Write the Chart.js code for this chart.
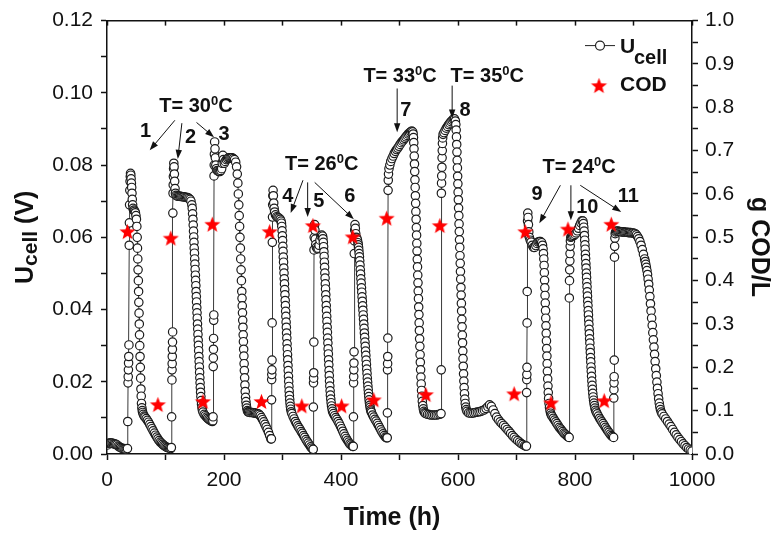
<!DOCTYPE html>
<html>
<head>
<meta charset="utf-8">
<title>Ucell and COD vs time</title>
<script src="https://cdn.jsdelivr.net/npm/chart.js@4.4.1/dist/chart.umd.min.js"></script>
<style>
  html, body { margin: 0; padding: 0; background: #fff; }
  #chart { display: block; }
</style>
</head>
<body>
<canvas id="chart" width="775" height="534"></canvas>
<script>
// cell voltage, one array per feeding run: [time h, Ucell V]
const run0 = [[1,0.0025],[3,0.003],[5,0.003],[7,0.003],[9,0.003],[11,0.0028],[13,0.0028],[15,0.0027],[17,0.0025],[19,0.0022],[21,0.002],[23,0.0018],[25,0.0016],[27,0.0015],[29,0.0015],[31,0.0014],[33,0.0014]];
const run1 = [[35,0.0015],[35.5,0.009],[36,0.0197],[36.3,0.0214],[36.6,0.0233],[36.9,0.0252],[37.2,0.027],[37.5,0.0302],[38,0.0578],[38.3,0.064],[38.6,0.069],[39,0.073],[39.4,0.0755],[39.8,0.0768],[40.2,0.0777],[40.7,0.0772],[41.2,0.0762],[41.7,0.075],[42.2,0.0738],[42.7,0.0722],[43.2,0.0705],[43.8,0.069],[44.5,0.068],[45.5,0.0675],[46.5,0.0675],[47.5,0.0672],[48.5,0.0668],[49.5,0.066],[50.3,0.065],[51,0.063],[51.6,0.06],[52.1,0.057],[52.6,0.054],[53.1,0.051],[53.6,0.048],[54,0.045],[54.4,0.042],[54.8,0.039],[55.2,0.036],[55.6,0.033],[56,0.030],[56.5,0.027],[57,0.024],[57.5,0.021],[58,0.018],[58.5,0.016],[59,0.014],[59.6,0.0128],[60.3,0.012],[61,0.0115],[62,0.011],[63.5,0.0105],[65,0.0102],[67,0.0098],[69,0.0093],[71,0.0088],[73,0.0082],[75,0.0076],[77,0.007],[79,0.0064],[81,0.0058],[83,0.0052],[85,0.0047],[87,0.0042],[89,0.0037],[91,0.0033],[93,0.003],[95,0.0027],[97,0.0024],[99,0.0022],[101,0.002],[103,0.0018],[105,0.0017],[107,0.0016],[109,0.0015]];
const run2 = [[110,0.0018],[110.5,0.0103],[111,0.0205],[111.2,0.0233],[111.4,0.025],[111.6,0.027],[111.8,0.029],[112,0.031],[112.2,0.0338],[112.6,0.0667],[112.9,0.0722],[113.2,0.0745],[113.5,0.0768],[113.8,0.079],[114.2,0.0805],[114.7,0.0795],[115.2,0.0775],[115.7,0.0755],[116.3,0.0735],[117,0.0722],[118,0.0716],[120,0.0714],[122,0.0714],[124,0.0714],[126,0.0713],[128,0.0713],[130,0.0712],[132,0.0712],[134,0.0711],[136,0.071],[138,0.071],[140,0.0708],[142,0.0705],[143.5,0.07],[145,0.069],[145.7,0.068],[146.3,0.0665],[146.9,0.065],[147.4,0.0634],[147.9,0.0617],[148.3,0.0601],[148.7,0.0586],[149.1,0.057],[149.5,0.0556],[149.9,0.054],[150.3,0.0526],[150.7,0.0511],[151.1,0.0495],[151.5,0.0481],[151.9,0.0466],[152.3,0.045],[152.7,0.0436],[153.1,0.0421],[153.5,0.0405],[153.9,0.0391],[154.3,0.0376],[154.7,0.036],[155.1,0.0346],[155.5,0.0331],[155.9,0.0315],[156.3,0.0301],[156.7,0.0286],[157.1,0.027],[157.5,0.0256],[157.9,0.0241],[158.3,0.0226],[158.7,0.0211],[159.1,0.0197],[159.5,0.0184],[160,0.0171],[160.5,0.0159],[161,0.0148],[161.6,0.0138],[162.3,0.0129],[163,0.0122],[164,0.0116],[166,0.011],[168,0.0106],[170,0.0102],[172,0.0099],[174,0.0096],[176,0.0094],[178,0.0092],[180,0.009]];
const run3 = [[181,0.0092],[181.3,0.0103],[181.6,0.0242],[181.8,0.0266],[182,0.029],[182.2,0.032],[182.4,0.037],[182.6,0.0385],[183,0.077],[183.3,0.080],[183.6,0.083],[184,0.0864],[184.6,0.0845],[185.2,0.082],[186,0.080],[187,0.079],[188.5,0.0785],[190,0.0783],[191.5,0.0782],[193,0.0782],[194.5,0.0785],[196,0.079],[197,0.0805],[198,0.0827],[199,0.0815],[200.5,0.0805],[202,0.081],[204,0.0815],[206,0.0818],[208,0.082],[210,0.082],[212,0.082],[214,0.082],[216,0.0818],[218,0.0815],[220,0.0808],[221.5,0.0795],[222.7,0.0775],[223.7,0.075],[224.5,0.072],[225.3,0.069],[226,0.066],[226.7,0.063],[227.3,0.060],[228,0.057],[228.6,0.054],[229.2,0.051],[229.8,0.048],[230.4,0.045],[230.8,0.0431],[231.2,0.041],[231.6,0.0391],[232,0.037],[232.4,0.0351],[232.8,0.033],[233.2,0.0311],[233.6,0.029],[234,0.0271],[234.4,0.025],[234.8,0.0231],[235.3,0.0211],[235.8,0.0191],[236.3,0.0173],[236.9,0.0157],[237.5,0.0145],[238.2,0.0135],[239,0.0127],[240,0.012],[241,0.0117],[242,0.0116],[244,0.0115],[246,0.0115],[248,0.0115],[250,0.0114],[252,0.0114],[254,0.0113],[256,0.0112],[258,0.0111],[260,0.011],[262,0.0106],[264,0.0101],[266,0.0095],[268,0.0089],[270,0.0082],[272,0.0075],[274,0.0068],[276,0.006],[278,0.0051],[280,0.0042]];
const run4 = [[281,0.0042],[281.3,0.015],[281.5,0.0206],[281.7,0.022],[281.9,0.0233],[282.1,0.026],[282.3,0.0363],[282.6,0.0586],[282.9,0.0656],[283.2,0.069],[283.5,0.0715],[283.9,0.073],[284.4,0.0715],[285,0.0695],[285.7,0.068],[286.5,0.067],[288,0.0662],[290,0.0657],[292,0.0655],[294,0.0653],[296,0.065],[297.5,0.0645],[298.2,0.0639],[298.8,0.063],[299.3,0.0618],[299.8,0.0604],[300.2,0.0591],[300.6,0.0575],[301,0.0561],[301.4,0.0545],[301.8,0.0531],[302.2,0.0515],[302.6,0.0501],[303,0.0485],[303.4,0.0471],[303.8,0.0455],[304.2,0.0441],[304.6,0.0425],[305,0.0411],[305.4,0.0395],[305.8,0.0381],[306.2,0.0365],[306.6,0.0351],[307,0.0335],[307.4,0.0321],[307.8,0.0305],[308.2,0.0291],[308.6,0.0275],[309,0.0261],[309.4,0.0245],[309.8,0.0231],[310.2,0.0215],[310.6,0.0201],[311,0.0187],[311.4,0.0174],[311.8,0.0162],[312.3,0.0151],[312.8,0.0141],[313.4,0.0132],[314,0.0124],[315,0.0117],[316,0.0112],[318,0.0104],[320,0.0097],[322,0.009],[324,0.0084],[326,0.0078],[328,0.0073],[330,0.0068],[332,0.0062],[334,0.0057],[336,0.0051],[338,0.0046],[340,0.004],[342,0.0035],[344,0.003],[346,0.0025],[348,0.002],[350,0.0016],[352,0.0013]];
const run5 = [[352.5,0.0013],[352.8,0.013],[353,0.0197],[353.2,0.021],[353.4,0.0225],[353.6,0.031],[353.9,0.0565],[354.2,0.060],[354.5,0.0625],[354.9,0.0635],[355.4,0.062],[356,0.0595],[356.8,0.058],[358,0.0572],[359.5,0.0568],[361,0.057],[362.5,0.0578],[364,0.0592],[365.5,0.0603],[367,0.0606],[368.5,0.0603],[369.2,0.0596],[369.8,0.0586],[370.3,0.0574],[370.8,0.056],[371.2,0.0547],[371.6,0.0531],[372,0.0517],[372.4,0.0501],[372.8,0.0487],[373.2,0.0471],[373.6,0.0457],[374,0.0441],[374.4,0.0427],[374.8,0.0411],[375.2,0.0397],[375.6,0.0381],[376,0.0367],[376.4,0.0351],[376.8,0.0337],[377.2,0.0321],[377.6,0.0307],[378,0.0291],[378.4,0.0277],[378.8,0.0261],[379.2,0.0247],[379.6,0.0231],[380,0.0217],[380.4,0.0202],[380.9,0.0188],[381.4,0.0175],[381.9,0.0163],[382.5,0.0152],[383.1,0.0142],[383.8,0.0133],[384.6,0.0125],[385.5,0.0118],[387,0.0112],[389,0.0106],[391,0.0101],[393,0.0096],[395,0.009],[397,0.0084],[399,0.0077],[401,0.007],[403,0.0063],[405,0.0056],[407,0.0049],[409,0.0043],[411,0.0038],[413,0.0033],[415,0.0028],[417,0.0025],[419,0.0022],[420,0.0021]];
const run6 = [[421,0.0021],[421.3,0.0103],[421.5,0.0197],[421.7,0.0214],[421.9,0.0233],[422.1,0.0252],[422.3,0.0283],[422.7,0.0555],[423,0.059],[423.4,0.062],[423.9,0.0635],[424.5,0.0625],[425.2,0.061],[426,0.060],[427,0.0598],[428,0.0593],[429,0.0585],[429.5,0.0579],[430,0.0572],[430.5,0.0564],[431,0.0555],[431.5,0.0546],[432,0.0535],[432.5,0.0523],[433,0.051],[433.5,0.0498],[434,0.0485],[434.5,0.0473],[435,0.046],[435.5,0.0448],[436,0.0435],[436.5,0.0423],[437,0.041],[437.5,0.0398],[438,0.0385],[438.5,0.0373],[439,0.036],[439.5,0.0348],[440,0.0335],[440.5,0.0323],[441,0.031],[441.5,0.0298],[442,0.0285],[442.5,0.0273],[443,0.026],[443.5,0.0248],[444,0.0235],[444.5,0.0223],[445,0.021],[445.5,0.0199],[446,0.0188],[446.5,0.0178],[447,0.0168],[447.5,0.0159],[448,0.015],[448.6,0.0142],[449.2,0.0135],[449.8,0.0129],[450.5,0.0123],[451.2,0.0119],[452,0.0115],[454,0.0108],[456,0.0102],[458,0.0096],[460,0.0091],[462,0.0085],[464,0.0079],[466,0.0073],[468,0.0067],[470,0.0061],[472,0.0056],[474,0.0051],[476,0.0047],[478,0.0045]];
const run7 = [[479,0.0045],[479.3,0.0114],[479.5,0.0233],[479.7,0.025],[479.9,0.027],[480.1,0.0321],[480.5,0.073],[480.8,0.0758],[481.2,0.0775],[482,0.079],[483.5,0.080],[485,0.081],[487,0.0818],[489,0.0825],[491,0.0832],[493,0.0838],[495,0.0843],[497,0.0847],[499,0.0852],[501,0.0857],[503,0.0862],[505,0.0866],[507,0.087],[509,0.0874],[511,0.0878],[513,0.0882],[515,0.0886],[517,0.0889],[519,0.0892],[521,0.0894],[522.5,0.0892],[523.3,0.0886],[523.9,0.0876],[524.4,0.0862],[524.8,0.0845],[525.2,0.0825],[525.6,0.0803],[526,0.0782],[526.4,0.0759],[526.8,0.0738],[527.2,0.0715],[527.6,0.0694],[528,0.0671],[528.4,0.065],[528.8,0.0627],[529.2,0.0606],[529.6,0.0583],[530,0.0562],[530.4,0.0539],[530.8,0.0518],[531.2,0.0495],[531.6,0.0474],[532,0.0451],[532.4,0.043],[532.8,0.0407],[533.2,0.0386],[533.6,0.0363],[534,0.0342],[534.4,0.0319],[534.8,0.0298],[535.2,0.0275],[535.6,0.0254],[536.1,0.0233],[536.6,0.0213],[537.1,0.0194],[537.7,0.0176],[538.3,0.016],[539,0.0146],[539.8,0.0134],[540.7,0.0125],[541.7,0.0118],[543,0.0114],[545,0.0112],[548,0.011],[551,0.0109],[554,0.0108],[557,0.0108],[560,0.0108],[563,0.0108],[566,0.0109],[569,0.011],[571,0.0112]];
const run8 = [[571.3,0.0233],[571.6,0.0722],[571.9,0.075],[572.2,0.077],[572.5,0.0794],[572.8,0.082],[573.1,0.084],[573.4,0.086],[573.8,0.0875],[574.5,0.0885],[576,0.089],[578,0.0896],[580,0.0902],[582,0.0907],[584,0.0912],[586,0.0916],[588,0.092],[590,0.0924],[592,0.0927],[594,0.0928],[595.5,0.0922],[596.3,0.0912],[596.9,0.0897],[597.4,0.0878],[597.8,0.0857],[598.2,0.0836],[598.6,0.0813],[599,0.0792],[599.4,0.0769],[599.8,0.0748],[600.2,0.0725],[600.6,0.0704],[601,0.0681],[601.4,0.066],[601.8,0.0637],[602.2,0.0616],[602.6,0.0593],[603,0.0572],[603.4,0.0549],[603.8,0.0528],[604.2,0.0505],[604.6,0.0484],[605,0.0461],[605.4,0.044],[605.8,0.0417],[606.2,0.0396],[606.6,0.0373],[607,0.0352],[607.4,0.0329],[607.8,0.0308],[608.2,0.0285],[608.6,0.0264],[609,0.0243],[609.5,0.0222],[610,0.0202],[610.5,0.0184],[611.1,0.0167],[611.7,0.0152],[612.4,0.014],[613.2,0.013],[614.2,0.0123],[615.5,0.0118],[618,0.0114],[621,0.0113],[624,0.0113],[627,0.0114],[630,0.0115],[633,0.0116],[636,0.0117],[639,0.0118],[642,0.012],[645,0.0122],[648,0.0126],[651,0.0131],[654,0.0136],[657,0.0132],[660,0.0122],[663,0.0112],[666,0.0102],[669,0.0095],[672,0.0089],[675,0.0084],[678,0.0079],[681,0.0074],[684,0.0068],[687,0.0063],[690,0.0057],[693,0.0051],[696,0.0046],[699,0.0041],[702,0.0037],[705,0.0033],[708,0.0029],[711,0.0026],[714,0.0023],[716,0.0022]];
const run9 = [[717,0.0022],[717.3,0.017],[717.5,0.0206],[717.7,0.022],[717.9,0.024],[718.1,0.0363],[718.3,0.045],[718.6,0.061],[718.9,0.0645],[719.3,0.0667],[719.8,0.0655],[720.4,0.0635],[721,0.0615],[722,0.060],[723.5,0.0592],[725,0.0587],[727,0.0578],[729,0.0572],[731,0.0572],[733,0.0577],[735,0.0583],[737,0.0587],[739,0.0588],[741,0.0588],[743,0.0585],[744.5,0.0578],[745.4,0.0568],[746.1,0.0555],[746.7,0.054],[747.2,0.0522],[747.6,0.0502],[748,0.0481],[748.4,0.046],[748.8,0.0439],[749.2,0.0418],[749.6,0.0397],[750,0.0376],[750.4,0.0355],[750.8,0.0334],[751.2,0.0313],[751.6,0.0292],[752,0.0271],[752.4,0.025],[752.8,0.0229],[753.3,0.0208],[753.8,0.0188],[754.3,0.017],[754.9,0.0154],[755.6,0.014],[756.4,0.0129],[757.3,0.012],[758.3,0.0113],[759.5,0.0108],[761,0.0104],[763,0.0099],[765,0.0094],[767,0.0089],[769,0.0084],[771,0.0079],[773,0.0074],[775,0.007],[777,0.0066],[779,0.0062],[781,0.0058],[783,0.0055],[785,0.0052],[787,0.0049],[789,0.0047]];
const run10 = [[790,0.0046],[790.3,0.0432],[790.6,0.048],[790.9,0.051],[791.2,0.0535],[791.5,0.0555],[791.8,0.0575],[792.2,0.059],[792.8,0.060],[794,0.0602],[796,0.0603],[798,0.0605],[800,0.0608],[802,0.0612],[804,0.0618],[806,0.0625],[808,0.0633],[810,0.064],[812,0.0646],[813.5,0.0645],[814.3,0.0638],[815,0.0628],[815.6,0.0617],[816.1,0.0605],[816.6,0.0592],[817,0.0579],[817.4,0.0567],[817.8,0.0553],[818.2,0.0541],[818.6,0.0527],[819,0.0515],[819.4,0.0501],[819.8,0.0489],[820.2,0.0475],[820.6,0.0463],[821,0.0449],[821.4,0.0437],[821.8,0.0423],[822.2,0.0411],[822.6,0.0397],[823,0.0385],[823.4,0.0371],[823.8,0.0359],[824.2,0.0345],[824.6,0.0333],[825,0.0319],[825.4,0.0307],[825.8,0.0293],[826.2,0.0281],[826.6,0.0267],[827,0.0255],[827.4,0.0241],[827.8,0.0229],[828.3,0.0215],[828.8,0.0202],[829.3,0.019],[829.8,0.0179],[830.4,0.0168],[831,0.0158],[831.7,0.0149],[832.4,0.0141],[833.2,0.0134],[834.1,0.0127],[835.1,0.0121],[836.3,0.0116],[838,0.0111],[840,0.0105],[842,0.0099],[844,0.0094],[846,0.0089],[848,0.0084],[850,0.0079],[852,0.0074],[854,0.0069],[856,0.0064],[858,0.006],[860,0.0055],[862,0.0051],[864,0.0048],[866,0.0046]];
const run11 = [[866.3,0.0155],[866.5,0.0178],[866.7,0.0197],[866.9,0.0214],[867.1,0.026],[867.5,0.0545],[867.8,0.0575],[868.2,0.0598],[868.7,0.061],[869.5,0.0615],[871,0.0617],[873,0.0617],[875,0.0616],[877,0.0616],[879,0.0615],[881,0.0615],[883,0.0615],[885,0.0614],[887,0.0614],[889,0.0614],[891,0.0613],[893,0.0613],[895,0.0613],[897,0.0612],[899,0.0612],[901,0.0611],[903,0.061],[905,0.0607],[907,0.0602],[909,0.0596],[911,0.0588],[913,0.0578],[915,0.0566],[917,0.0553],[919,0.054],[920,0.0533],[921,0.0525],[922,0.0517],[923,0.0508],[924,0.0497],[925,0.0484],[926,0.047],[927,0.0454],[928,0.0436],[929,0.0416],[930,0.0396],[931,0.0376],[932,0.0356],[933,0.0336],[934,0.0316],[935,0.0296],[936,0.0276],[937,0.0256],[938,0.0236],[939,0.0217],[940,0.0199],[941,0.0182],[942,0.0167],[943,0.0153],[944,0.0141],[945,0.0131],[946,0.0123],[947.5,0.0116],[949,0.0111],[952,0.0104],[955,0.0097],[958,0.009],[961,0.0083],[964,0.0076],[967,0.0068],[970,0.006],[973,0.0053],[976,0.0046],[979,0.004],[982,0.0034],[985,0.0028],[988,0.0023],[991,0.0018],[994,0.0014],[997,0.0011],[1000,0.0008]];

// COD samples (right axis, g COD/L)
const codHours  = [35, 87, 109, 164, 180, 264, 278, 333, 352, 401, 420, 456, 478, 545, 569, 696, 715, 759, 788, 850, 862];
const codValues = [0.513, 0.114, 0.498, 0.121, 0.530, 0.121, 0.513, 0.111, 0.527, 0.111, 0.501, 0.125, 0.544, 0.137, 0.527, 0.139, 0.513, 0.118, 0.519, 0.123, 0.530];

// tick labels
const timeTicks = [0, 200, 400, 600, 800, 1000];
const voltTicks = ['0.00', '0.02', '0.04', '0.06', '0.08', '0.10', '0.12'];
const codTicks  = ['0.0', '0.1', '0.2', '0.3', '0.4', '0.5', '0.6', '0.7', '0.8', '0.9', '1.0'];

// labels on the plot, placed in data units (time h, volts)
const tempNotes = [
  { deg: '30', t: 152, v: 0.0948 },
  { deg: '26', t: 367, v: 0.0786 },
  { deg: '33', t: 501, v: 0.1029 },
  { deg: '35', t: 650, v: 0.1029 },
  { deg: '24', t: 807, v: 0.0777 }
];
const runNotes = [
  { n: '1', t: 66, v: 0.0877 }, { n: '2', t: 143, v: 0.0860 }, { n: '3', t: 200, v: 0.0869 },
  { n: '4', t: 309, v: 0.0697 }, { n: '5', t: 362, v: 0.0683 }, { n: '6', t: 415, v: 0.0697 },
  { n: '7', t: 511, v: 0.0937 }, { n: '8', t: 612, v: 0.0937 },
  { n: '9', t: 735, v: 0.0703 }, { n: '10', t: 821, v: 0.0667 }, { n: '11', t: 891, v: 0.0697 }
];
const arrowNotes = [
  [116, 0.0924, 73, 0.0841], [128, 0.0916, 121, 0.0817], [153, 0.0918, 183, 0.0877],
  [335, 0.0758, 314, 0.0667], [343, 0.0752, 343, 0.0656], [355, 0.0752, 422, 0.0650],
  [496, 0.1012, 496, 0.0891], [590, 0.1020, 590, 0.0929],
  [775, 0.0744, 739, 0.0639], [793, 0.0744, 793, 0.0647], [809, 0.0744, 879, 0.0670]
];

const FONT = '"Liberation Sans", Arial, Helvetica, sans-serif';
const INK = '#111';

const ucellPts = [run0, run1, run2, run3, run4, run5, run6, run7, run8, run9, run10, run11]
  .flat().map(p => ({ x: p[0], y: p[1] }));
const codPts = codHours.map((t, i) => ({ x: t, y: codValues[i] }));

// filled five point star used as point style
function makeStar(r, fill) {
  const c = document.createElement('canvas');
  c.width = c.height = Math.ceil(r * 2 + 2);
  const g = c.getContext('2d');
  const cx = c.width / 2, cy = c.height / 2 + r * 0.08;
  g.beginPath();
  for (let i = 0; i < 10; i++) {
    const rad = i % 2 === 0 ? r : r * 0.42;
    const a = -Math.PI / 2 + i * Math.PI / 5;
    g.lineTo(cx + rad * Math.cos(a), cy + rad * Math.sin(a));
  }
  g.closePath();
  g.fillStyle = fill;
  g.fill();
  return c;
}
const starImg = makeStar(8.5, '#ff0000');

function drawArrow(c, x1, y1, x2, y2) {
  const a = Math.atan2(y2 - y1, x2 - x1);
  const h = 9, w = 3.2;
  c.beginPath();
  c.moveTo(x1, y1);
  c.lineTo(x2 - h * 0.7 * Math.cos(a), y2 - h * 0.7 * Math.sin(a));
  c.stroke();
  c.beginPath();
  c.moveTo(x2, y2);
  c.lineTo(x2 - h * Math.cos(a) + w * Math.sin(a), y2 - h * Math.sin(a) - w * Math.cos(a));
  c.lineTo(x2 - h * Math.cos(a) - w * Math.sin(a), y2 - h * Math.sin(a) + w * Math.cos(a));
  c.closePath();
  c.fill();
}

// draws pieces [text, font, dy] left to right, centred on x
function drawPieces(c, pieces, x, y) {
  let total = 0;
  pieces.forEach(p => { c.font = p[1]; total += c.measureText(p[0]).width; });
  let cx = x - total / 2;
  c.textAlign = 'left';
  c.textBaseline = 'alphabetic';
  pieces.forEach(p => {
    c.font = p[1];
    c.fillText(p[0], cx, y + p[2]);
    cx += c.measureText(p[0]).width;
  });
}

const decor = {
  id: 'decor',
  afterDraw(chart) {
    const c = chart.ctx, a = chart.chartArea;
    const sx = chart.scales.x, sy = chart.scales.y;
    c.save();
    c.fillStyle = INK;
    c.strokeStyle = INK;

    // axis titles
    const t25 = 'bold 25px ' + FONT, t21 = 'bold 21px ' + FONT;
    drawPieces(c, [['Time (h)', t25, 0]], 392, 525);
    c.save();
    c.translate(33, (a.top + a.bottom) / 2);
    c.rotate(-Math.PI / 2);
    drawPieces(c, [['U', t25, 0], ['cell', t21, 4], [' (V)', t25, 0]], 0, 0);
    c.restore();
    c.save();
    c.translate(752, 247);
    c.rotate(Math.PI / 2);
    drawPieces(c, [['g COD/L', t25, 0]], 0, 0);
    c.restore();

    // legend
    const lx = a.right - 92, ly = a.top + 25;
    c.lineWidth = 1;
    c.strokeStyle = '#222';
    c.beginPath(); c.moveTo(lx - 15, ly); c.lineTo(lx + 15, ly); c.stroke();
    c.fillStyle = '#fff';
    c.lineWidth = 1.2;
    c.beginPath(); c.arc(lx, ly, 4.5, 0, Math.PI * 2); c.fill(); c.stroke();
    c.drawImage(starImg, lx - 1 - starImg.width / 2, ly + 40 - starImg.height / 2);
    c.fillStyle = INK;
    c.textAlign = 'left';
    c.font = 'bold 21px ' + FONT;
    c.fillText('U', lx + 20, ly + 7);
    c.fillText('COD', lx + 20, ly + 45);
    c.font = 'bold 20px ' + FONT;
    c.fillText('cell', lx + 34, ly + 18);

    // temperatures, run numbers, arrows
    const big = 'bold 20px ' + FONT, sup = 'bold 13px ' + FONT;
    tempNotes.forEach(n => {
      drawPieces(c, [['T= ' + n.deg, big, 0], ['0', sup, -7], ['C', big, 0]],
        sx.getPixelForValue(n.t), sy.getPixelForValue(n.v));
    });
    runNotes.forEach(n => {
      drawPieces(c, [[n.n, big, 0]], sx.getPixelForValue(n.t), sy.getPixelForValue(n.v));
    });
    c.strokeStyle = INK;
    c.lineWidth = 1;
    arrowNotes.forEach(r => {
      drawArrow(c, sx.getPixelForValue(r[0]), sy.getPixelForValue(r[1]),
        sx.getPixelForValue(r[2]), sy.getPixelForValue(r[3]));
    });
    c.restore();
  }
};

const tickFont = { family: FONT, size: 21 };
const axisGrid = { drawOnChartArea: false, tickLength: 6, tickColor: INK, tickWidth: 1.5 };
const axisBorder = { color: INK, width: 1.5 };

const ctx = document.getElementById('chart').getContext('2d');

const chart = new Chart(ctx, {
  type: 'line',
  data: {
    datasets: [
      {
        label: 'COD',
        data: codPts,
        yAxisID: 'y2',
        showLine: false,
        pointStyle: starImg,
        pointRadius: 8,
        order: 0
      },
      {
        label: 'Ucell',
        data: ucellPts,
        yAxisID: 'y',
        borderColor: '#3a3a3a',
        borderWidth: 1,
        pointRadius: 4.2,
        pointBackgroundColor: '#fff',
        pointBorderColor: '#1c1c1c',
        pointBorderWidth: 1.2,
        tension: 0,
        order: 1
      }
    ]
  },
  options: {
    responsive: false,
    animation: false,
    layout: { padding: 0 },
    plugins: {
      legend: { display: false },
      tooltip: { enabled: false }
    },
    scales: {
      x: {
        type: 'linear', position: 'bottom', min: 0, max: 1000,
        ticks: {
          stepSize: 100, autoSkip: false, maxRotation: 0, padding: 8, color: INK, font: tickFont,
          callback: v => timeTicks.includes(v) ? String(v) : ''
        },
        grid: axisGrid, border: axisBorder,
        afterFit: s => { s.height = 80; }
      },
      xTop: {
        type: 'linear', position: 'top', min: 0, max: 1000,
        ticks: { display: false, stepSize: 100 },
        grid: { drawOnChartArea: false, tickLength: -5, tickColor: INK, tickWidth: 1.5 },
        border: axisBorder,
        afterFit: s => { s.height = 20; }
      },
      y: {
        type: 'linear', position: 'left', min: 0, max: 0.12,
        ticks: {
          stepSize: 0.01, autoSkip: false, padding: 8, color: INK, font: tickFont,
          callback: v => { const s = v.toFixed(2); return voltTicks.includes(s) && Math.abs(v * 50 - Math.round(v * 50)) < 1e-6 ? s : ''; }
        },
        grid: axisGrid, border: axisBorder,
        afterFit: s => { s.width = 107; }
      },
      y2: {
        type: 'linear', position: 'right', min: 0, max: 1,
        ticks: {
          stepSize: 0.05, autoSkip: false, padding: 7, color: INK, font: tickFont,
          callback: v => { const s = v.toFixed(1); return codTicks.includes(s) && Math.abs(v * 10 - Math.round(v * 10)) < 1e-6 ? s : ''; }
        },
        grid: axisGrid, border: axisBorder,
        afterFit: s => { s.width = 83; }
      }
    }
  },
  plugins: [decor]
});
</script>
</body>
</html>
